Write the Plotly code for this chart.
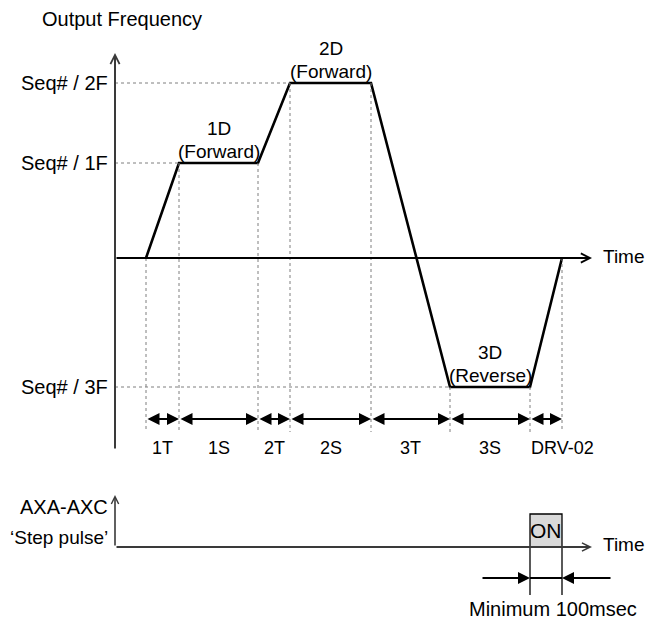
import plotly.graph_objects as go

# ---------------- data ----------------
# breakpoints of the speed profile (time units)
t_points = [3.1, 6.4, 14.3, 17.5, 25.6, 33.5, 41.5, 44.7]
# sequence frequency levels
freq_1F = 9.5
freq_2F = 17.5
freq_3F = -12.9
profile_f = [0, freq_1F, freq_1F, freq_2F, freq_2F, freq_3F, freq_3F, 0]
level_labels = ["Seq# / 2F", "Seq# / 1F", "Seq# / 3F"]
level_values = [freq_2F, freq_1F, freq_3F]
segment_labels = ["1T", "1S", "2T", "2S", "3T", "3S", "DRV-02"]
step_labels = [("1D", "(Forward)"), ("2D", "(Forward)"), ("3D", "(Reverse)")]
step_plateaus = [(1, 2), (3, 4), (5, 6)]   # indices into t_points
# step pulse (ON during the last interval)
pulse_on_start = t_points[6]
pulse_on_end = t_points[7]
pulse_level = 1

# ---------------- layout constants ----------------
X_RANGE = [-11.5, 54.5]
Y_RANGE = [-36.7, 25.8]
Y2_RANGE = [-2.3636, 16.576]
Y_AXIS_TOP, Y_AXIS_BOTTOM = 20.5, -19.2
T_AXIS_END = 47.7
GUIDE_BOTTOM = -17.4
DIM_Y = -16.1
DIM_LABEL_Y = -19.0
P_AXIS_TOP = 1.576
P_GUIDE_BOTTOM = -1.455
P_DIM_Y = -0.939
P_DIM_LEFT, P_DIM_RIGHT = 36.6, 49.7
P_LABEL_Y = -1.88

FONT = "Liberation Sans, Arial, sans-serif"
BLACK = "#000000"
GUIDE = "#7f7f7f"

fig = go.Figure()

# speed profile
fig.add_trace(go.Scatter(x=t_points, y=profile_f, mode="lines",
                         line=dict(color=BLACK, width=2.6), hoverinfo="skip",
                         showlegend=False))

shapes = []
annotations = []

# dotted horizontal guides to level starts
level_start_idx = {freq_2F: 3, freq_1F: 1, freq_3F: 5}
for lv in level_values:
    shapes.append(dict(type="line", xref="x", yref="y", x0=0, x1=t_points[level_start_idx[lv]],
                       y0=lv, y1=lv, line=dict(color=GUIDE, width=1, dash="dot")))

# dotted vertical guides from each breakpoint
for t, f in zip(t_points, profile_f):
    shapes.append(dict(type="line", xref="x", yref="y", x0=t, x1=t, y0=f, y1=GUIDE_BOTTOM,
                       line=dict(color=GUIDE, width=1, dash="dot")))


def arrow(x, y, ax, ay, yref="y", head=5, width=1.8, size=1.1, color=BLACK, both=False):
    d = dict(x=x, y=y, ax=ax, ay=ay, xref="x", yref=yref, axref="x", ayref=yref,
             text="", showarrow=True, arrowhead=head, arrowwidth=width, arrowsize=size,
             arrowcolor=color, standoff=0, startstandoff=0)
    if both:
        d.update(arrowside="end+start", startarrowhead=head, startarrowsize=size)
    return d


# axes (arrows)
annotations.append(arrow(0, Y_AXIS_TOP, 0, Y_AXIS_BOTTOM, color="#3a3a3a", width=2, size=0.9))
annotations.append(arrow(T_AXIS_END, 0, 0, 0, width=2, size=0.9))

# duration dimension arrows
for i in range(len(t_points) - 1):
    annotations.append(arrow(t_points[i + 1], DIM_Y, t_points[i], DIM_Y, head=2,
                             width=2, size=1.2, both=True))


def label(txt, x, y, yref="y", size=19, xanchor="center", xshift=0, yshift=0):
    return dict(text=txt, x=x, y=y, xref="x", yref=yref, showarrow=False,
                xanchor=xanchor, yanchor="middle", xshift=xshift, yshift=yshift,
                font=dict(family=FONT, size=size, color=BLACK))


annotations.append(dict(text="Output Frequency", x=0, y=Y_AXIS_TOP, xref="x", yref="y",
                        showarrow=False, xanchor="center", yanchor="middle",
                        xshift=7, yshift=34,
                        font=dict(family=FONT, size=20, color=BLACK)))
for txt, lv in zip(level_labels, level_values):
    annotations.append(label(txt, 0, lv, size=20, xanchor="right", xshift=-5))
annotations.append(label("Time", T_AXIS_END, 0, size=19, xanchor="left", xshift=9, yshift=2))

for (top, bottom), (i0, i1) in zip(step_labels, step_plateaus):
    xm = (t_points[i0] + t_points[i1]) / 2
    lv = profile_f[i1]
    annotations.append(label(top, xm, lv, size=19, yshift=35))
    annotations.append(label(bottom, xm, lv, size=19, yshift=12))

for i, txt in enumerate(segment_labels):
    xm = (t_points[i] + t_points[i + 1]) / 2
    xs = 16 if txt == "DRV-02" else 0
    annotations.append(label(txt, xm, DIM_LABEL_Y, size=18, xshift=xs))

# ---------------- step pulse panel (y2) ----------------
fig.add_trace(go.Scatter(x=[0], y=[0], yaxis="y2", mode="markers",
                         marker=dict(size=0.1, color="rgba(0,0,0,0)"),
                         hoverinfo="skip", showlegend=False))

shapes.append(dict(type="rect", xref="x", yref="y2", x0=pulse_on_start, x1=pulse_on_end,
                   y0=0, y1=pulse_level, fillcolor="#d9d9d9",
                   line=dict(color=BLACK, width=1.3), layer="below"))
for xe in (pulse_on_start, pulse_on_end):
    shapes.append(dict(type="line", xref="x", yref="y2", x0=xe, x1=xe, y0=0, y1=P_GUIDE_BOTTOM,
                       line=dict(color=BLACK, width=1.3)))
shapes.append(dict(type="line", xref="x", yref="y2", x0=pulse_on_start, x1=pulse_on_end,
                   y0=P_DIM_Y, y1=P_DIM_Y, line=dict(color=BLACK, width=2)))

annotations.append(arrow(0, P_AXIS_TOP, 0, 0, yref="y2", color="#3a3a3a", width=1.6, size=0.9))
annotations.append(arrow(T_AXIS_END, 0, 0, 0, yref="y2", color="#3a3a3a", width=1.8, size=0.9))
annotations.append(arrow(pulse_on_start, P_DIM_Y, P_DIM_LEFT, P_DIM_Y, yref="y2", head=2,
                         width=2, size=1.2))
annotations.append(arrow(pulse_on_end, P_DIM_Y, P_DIM_RIGHT, P_DIM_Y, yref="y2", head=2,
                         width=2, size=1.2))

annotations.append(label("AXA-AXC", 0, P_AXIS_TOP, yref="y2", size=20, xanchor="right",
                         xshift=-5, yshift=-12))
annotations.append(label("\u2018Step pulse\u2019", 0, 0, yref="y2", size=19, xanchor="right",
                         xshift=-5, yshift=10))
annotations.append(label("ON", (pulse_on_start + pulse_on_end) / 2, pulse_level / 2,
                         yref="y2", size=21))
annotations.append(label("Time", T_AXIS_END, 0, yref="y2", size=19, xanchor="left",
                         xshift=9, yshift=3))
annotations.append(label("Minimum 100msec", (pulse_on_start + pulse_on_end) / 2, P_LABEL_Y,
                         yref="y2", size=20, xshift=7))

fig.update_layout(
    width=660, height=625,
    margin=dict(l=0, r=0, t=0, b=0),
    paper_bgcolor="white", plot_bgcolor="white",
    xaxis=dict(range=X_RANGE, visible=False, fixedrange=True),
    yaxis=dict(range=Y_RANGE, visible=False, fixedrange=True),
    yaxis2=dict(range=Y2_RANGE, visible=False, overlaying="y", fixedrange=True),
    shapes=shapes,
    annotations=annotations,
    showlegend=False,
)

fig.write_html("out.html", config={"displayModeBar": False},
               post_script="document.body.style.margin='0';document.body.style.overflow='hidden';")
